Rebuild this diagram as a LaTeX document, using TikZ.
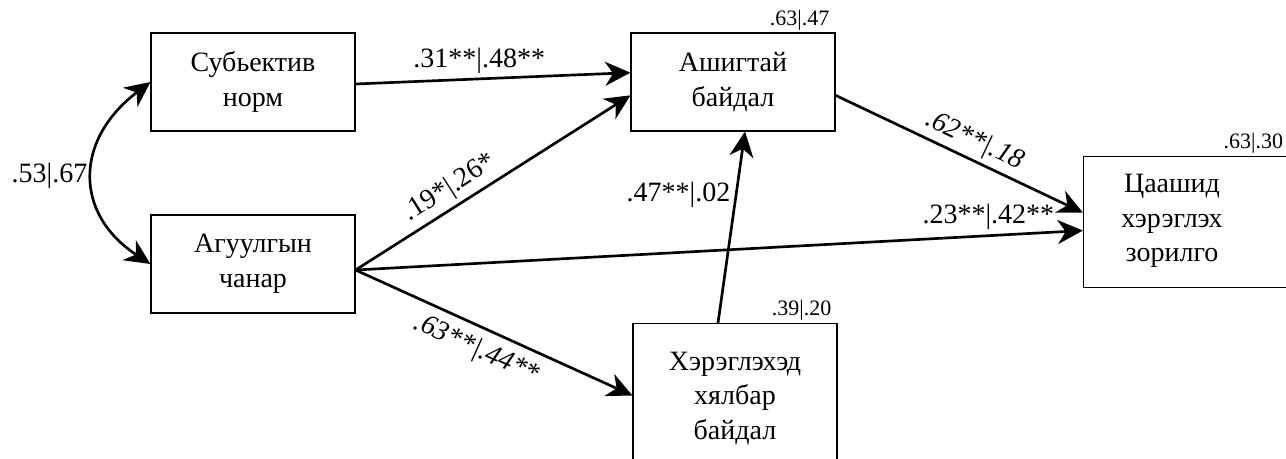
\documentclass[tikz,border=0pt]{standalone}
\usepackage{fontspec}
\setmainfont{Liberation Serif}
\usetikzlibrary{arrows.meta, positioning, calc}

\begin{document}
\begin{tikzpicture}[x=0.75pt, y=-0.75pt,
    var/.style={draw, line width=0.8pt, minimum width=153pt, minimum height=73.5pt, align=center, font=\fontsize{21}{26}\selectfont},
    effect/.style={line width=2pt, -{Stealth[length=19pt, width=18pt, inset=6pt]}},
    covar/.style={line width=2pt, {Stealth[length=19pt, width=18pt, inset=6pt]}-{Stealth[length=19pt, width=18pt, inset=6pt]}},
    coef/.style={font=\fontsize{21}{24}\selectfont},
    coefit/.style={font=\fontsize{21}{24}\selectfont\itshape},
    rsq/.style={font=\fontsize{16.5}{18}\selectfont, anchor=south east, inner sep=1.5pt}]
    \useasboundingbox (0,0) rectangle (1286,459);

    \node[var] (subj) at (253,82) {Субьектив\\норм};
    \node[var] (agu) at (253,264) {Агуулгын\\чанар};
    \node[var] (ashig) at (733,82) {Ашигтай\\байдал};
    \node[var, minimum height=112.5pt, anchor=north] (hereg) at (735,323) {Хэрэглэхэд\\хялбар\\байдал};
    \node[var, minimum width=155pt, minimum height=98.25pt, anchor=north west] (tsaash) at (1083,156) {};
    \node[align=center, font=\fontsize{21}{26}\selectfont] (tsaashtxt) at (1172,221) {Цаашид\\хэрэглэх\\зорилго};

    \node[rsq] (rashig) at ([xshift=-3pt]ashig.north east) {.63|.47};
    \node[rsq] (rhereg) at ([xshift=-3pt]hereg.north east) {.39|.20};
    \node[rsq] (rtsaash) at ([xshift=-4pt]tsaash.north east) {.63|.30};

    \coordinate (src) at ([yshift=-4.5pt]agu.east);

    \draw[covar] (subj.west) .. controls (74,140) and (74,214) .. node[coef, left, pos=0.5] {.53|.67} (agu.west);
    \draw[effect] ([yshift=-1.5pt]subj.east) -- node[coef, above, pos=0.45] {.31**|.48**} ([yshift=7pt]ashig.west);
    \draw[effect] (src) -- node[coef, sloped, above, pos=0.38] {.19*|.26*} ([yshift=-10pt]ashig.west);
    \draw[effect] (src) -- node[coef, above, pos=0.87] {.23**|.42**} ([yshift=-6.4pt]tsaash.west);
    \draw[effect] (src) -- node[coefit, sloped, below=3pt, pos=0.47] {.63**|.44**} ([yshift=2.25pt]hereg.west);
    \draw[effect] ([xshift=-12.75pt]hereg.north) -- node[coef, left, pos=0.67] {.47**|.02} ([xshift=9pt]ashig.south);
    \draw[effect] ([yshift=-10pt]ashig.east) -- node[coefit, sloped, above, pos=0.53] {.62**|.18} ([yshift=7pt]tsaash.west);
\end{tikzpicture}
\end{document}
